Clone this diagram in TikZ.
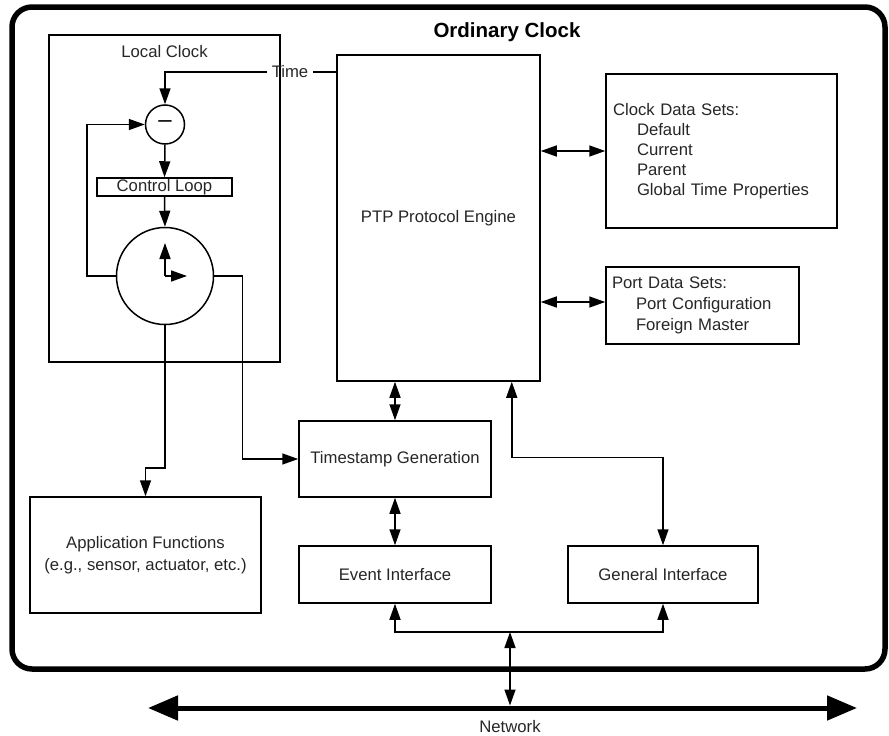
\documentclass[tikz,border=0pt]{standalone}
\usepackage{fontspec}
\setmainfont{Liberation Sans}
\usetikzlibrary{arrows.meta,calc}

\newcommand{\nf}{\fontsize{16.7}{20}\selectfont}

\tikzset{
  box/.style={draw, line width=1.5pt, inner sep=0pt, align=center, font=\nf, text=black!85},
  txt/.style={inner sep=0pt, font=\nf, text=black!85},
  ring/.style={draw, circle, line width=1.5pt, inner sep=0pt},
  wire/.style={line width=1.5pt},
  ar/.style={wire, -{Triangle[length=16pt,width=11pt]}},
  dar/.style={wire, {Triangle[length=16pt,width=11pt]}-{Triangle[length=16pt,width=11pt]}},
  hand/.style={wire, -{Triangle[length=16pt,width=11pt]}},
  netarrow/.style={line width=5pt, {Triangle[length=30pt,width=24pt]}-{Triangle[length=30pt,width=24pt]}}
}

\begin{document}
\begin{tikzpicture}[x=1pt,y=-1pt]
\useasboundingbox (0,0) rectangle (889,736);

% enclosing ordinary clock
\draw[line width=5.5pt, rounded corners=20pt] (12,7) rectangle (885,669);
\node[inner sep=0pt, font=\fontsize{20.5}{24}\selectfont\bfseries] (title) at (507,32) {Ordinary Clock};

% local clock
\node[box, minimum width=231pt, minimum height=327pt] (lc) at (164.5,198.5) {};
\node[txt] (lctitle) at (164.5,52) {Local Clock};
\node[ring, minimum size=39pt, font=\fontsize{24}{24}\selectfont] (minus) at (165,124.5) {\raisebox{1pt}{\textendash}};
\node[box, minimum width=135pt, minimum height=18pt] (ctl) at (164.5,187) {Control Loop};
\node[ring, minimum size=97pt] (clk) at (165,276) {};
\draw[hand] (clk.center) -- ++(0,-33);
\draw[hand] (clk.center) -- ++(22,0);

% protocol engine and data sets
\node[box, minimum width=203pt, minimum height=326pt] (ptp) at (438.5,218) {PTP Protocol Engine};
\node[box, minimum width=231pt, minimum height=154pt, align=left, text width=217pt] (cds) at (721.5,151)
  {Clock Data Sets:\\ \hspace*{24pt}Default\\ \hspace*{24pt}Current\\ \hspace*{24pt}Parent\\ \hspace*{24pt}Global Time Properties};
\node[box, minimum width=193pt, minimum height=77pt, align=left, text width=181pt] (pds) at (702.5,305.5)
  {Port Data Sets:\\[1pt] \hspace*{24pt}Port Configuration\\[1pt] \hspace*{24pt}Foreign Master};

% lower blocks
\node[box, minimum width=192pt, minimum height=76pt] (ts) at (395,459) {Timestamp Generation};
\node[box, minimum width=192pt, minimum height=57pt] (ev) at (395,574.5) {Event Interface};
\node[box, minimum width=190pt, minimum height=57pt] (gen) at (663,574.5) {General Interface};
\node[box, minimum width=231pt, minimum height=116pt] (app) at (145.5,555)
  {Application Functions\\[2pt](e.g., sensor, actuator, etc.)};

% time reference into the local clock
\node[txt, inner xsep=5pt] (time) at (290,72) {Time};
\draw[wire] (ptp.west |- time) -- (time.east);
\draw[ar] (time.west) -| (minus.north);
\draw[ar] (minus.south) -- (ctl.north);
\draw[ar] (ctl.south) -- (clk.north);
\draw[ar] (clk.west) -- ++(-29,0) |- (minus.west);
\draw[ar] (clk.east) -- ++(28,0) |- (ts.west);
\draw[ar] (clk.south) -- ++(0,142.5) -| (app.north);

% engine links
\draw[dar] (ptp.east |- cds.west) -- (cds.west);
\draw[dar] (ptp.east |- 0,302) -- (pds.west |- 0,302);
\draw[dar] (ts.north |- ptp.south) -- (ts.north);
\draw[dar] (ts.south) -- (ev.north);
\draw[dar] ([xshift=-29pt]ptp.south east) |- ($(gen.north)+(0,-88)$) -- (gen.north);

% network side
\coordinate (bus) at (510,632);
\coordinate (netL) at (148,708);
\coordinate (netR) at (857,708);
\draw[dar] (ev.south) |- (bus) -| (gen.south);
\draw[dar] (bus) -- (510,705.5);
\draw[netarrow] (netL) -- (netR);
\node[txt] (net) at (510,727) {Network};
\end{tikzpicture}
\end{document}
